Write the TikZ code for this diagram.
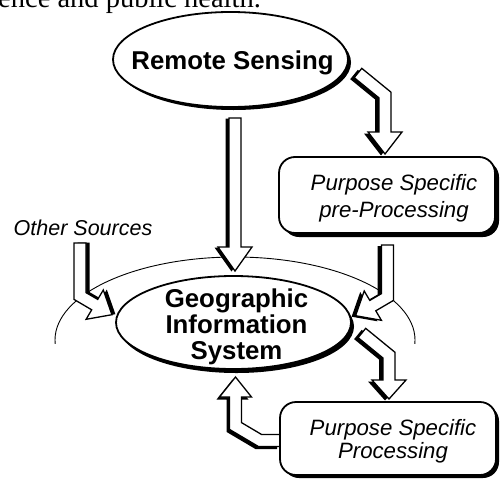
\documentclass[tikz,border=0pt]{standalone}
\usepackage{fontspec}
\setmainfont{Liberation Sans}
\newfontfamily\bodyserif{Liberation Serif}
\usetikzlibrary{shapes.geometric,shadows}

% block arrow: solid black offset copy underneath, white body on top
\newcommand\blockarrow[3]{%
  \fill[black, shift={(#1,#2)}] #3;
  \filldraw[arrowbody] #3;}

\tikzset{
  arrowbody/.style={fill=white, draw=black, line width=1.3pt, line join=miter},
  blob/.style={ellipse, draw=black, fill=white, line width=1.8pt, inner sep=0pt},
  card/.style={rectangle, rounded corners=16pt, draw=black, fill=white,
    line width=1.8pt, inner sep=0pt},
  solidshadow/.style 2 args={drop shadow={shadow xshift=#1, shadow yshift=#2,
    opacity=1, fill=black}},
  boldlabel/.style={font=\bfseries\fontsize{25.8}{26}\selectfont, align=center, inner sep=0pt},
  itlabel/.style={font=\itshape\fontsize{22.2}{#1}\selectfont, align=center, inner sep=0pt},
}

\begin{document}
\begin{tikzpicture}[x=1pt, y=-1pt]
\useasboundingbox (0,0) rectangle (500,479);
\clip (0,0) rectangle (500,479);

% end of the running text line above the figure
\node[anchor=base west, inner sep=0pt, font=\bodyserif\fontsize{28.5}{30}\selectfont]
  (tail) at (-2,7.5) {ence and public health.};

% thin halo over the GIS ellipse
\begin{scope}
  \clip (0,0) rectangle (500,343);
  \draw[line width=0.9pt] (235,340) ellipse [x radius=180, y radius=83];
\end{scope}

% Remote Sensing -> GIS
\blockarrow{-3.5}{0.5}{(229,118) -- (241,118) -- (241,247) -- (252,247) -- (235,271)
  -- (218,247) -- (229,247) -- cycle}
% Remote Sensing -> pre-processing
\blockarrow{-4}{1.5}{(354.2,77.65) -- (379,97.9) -- (379,132) -- (368,132) -- (385,154)
  -- (402,132) -- (391,132) -- (391,92.2) -- (361.8,68.35) -- cycle}
% pre-processing -> GIS
\blockarrow{-4}{1}{(381.5,245) -- (393.5,245) -- (393.5,300.4) -- (375.8,310.8)
  -- (381.4,320.3) -- (355.6,315.7) -- (364.2,291) -- (369.8,300.4) -- (381.5,293.6) -- cycle}
% other sources -> GIS
\blockarrow{3.5}{-0.5}{(74,243) -- (74,299.4) -- (91.7,309.8) -- (86.1,319.3)
  -- (111.9,314.7) -- (103.3,290) -- (97.7,299.4) -- (86,292.6) -- (86,243) -- cycle}
% GIS -> processing
\blockarrow{-4}{1.5}{(358.1,337.65) -- (383,358) -- (383,380) -- (372,380) -- (389,399)
  -- (406,380) -- (395,380) -- (395,352.3) -- (365.7,328.35) -- cycle}
% processing -> GIS
\blockarrow{-3}{2.5}{(280,434.5) -- (261.6,434.5) -- (241.5,422.6) -- (241.5,397)
  -- (251.5,397) -- (235.5,377) -- (219.5,397) -- (229.5,397) -- (229.5,429.4)
  -- (258.4,446.5) -- (280,446.5) -- cycle}

% shapes
\node[blob, solidshadow={3pt}{-3pt}, minimum width=235pt, minimum height=95pt]
  (rs) at (230.5,59.5) {};
\node[blob, solidshadow={3pt}{-4pt}, minimum width=235pt, minimum height=93pt]
  (gis) at (233.5,322.5) {};
\node[card, solidshadow={4pt}{-4pt}, minimum width=216pt, minimum height=76pt]
  (pre) at (387,195) {};
\node[card, solidshadow={3pt}{-3pt}, minimum width=216pt, minimum height=73pt]
  (proc) at (388,438.5) {};

% labels
\node[boldlabel] (rs-text) at (232.5,63) {Remote Sensing};
\node[boldlabel] (gis-text) at (236.5,326.5) {Geographic\\Information\\System};
\node[itlabel=27] (pre-text) at (394,198) {Purpose Specific\\pre-Processing};
\node[itlabel=23] (proc-text) at (393,441) {Purpose Specific\\Processing};
\node[font=\itshape\fontsize{21.5}{24}\selectfont, inner sep=0pt, anchor=base]
  (other) at (83,235) {Other Sources};
\end{tikzpicture}
\end{document}
